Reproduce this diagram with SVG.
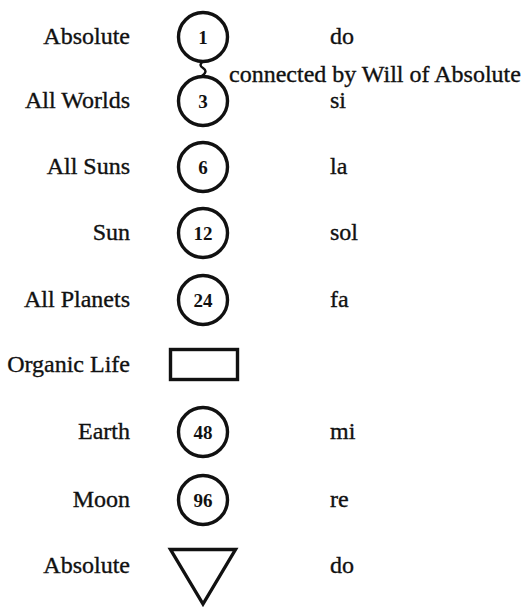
<svg xmlns="http://www.w3.org/2000/svg" width="525" height="608" viewBox="0 0 525 608">
<style>
  text { font-family: "Liberation Serif", "Times New Roman", serif; fill: #111; }
  .lbl { font-size: 24px; stroke: #111; stroke-width: 0.35; }
  .left { text-anchor: end; }
  .num { font-size: 19px; text-anchor: middle; font-weight: bold; }
  .shape { fill: #fff; stroke: #111; stroke-width: 3.4; }
  .conn { fill: none; stroke: #111; stroke-width: 2.4; }
</style>
<rect width="525" height="608" fill="#fff"/>
<g id="connectors">
  <path class="conn" d="M204,61 C199,64 200,66 203,68 C206,70 207,72 202,76"/>
  <text class="lbl" x="229" y="82">connected by Will of Absolute</text>
</g>
<g id="n1">
  <text class="lbl left" x="130" y="44">Absolute</text>
  <circle class="shape" cx="203" cy="37" r="24.5"/>
  <text class="num" x="203" y="44">1</text>
  <text class="lbl" x="330" y="44">do</text>
</g>
<g id="n3">
  <text class="lbl left" x="130" y="108">All Worlds</text>
  <circle class="shape" cx="203" cy="101" r="24.5"/>
  <text class="num" x="203" y="108">3</text>
  <text class="lbl" x="330" y="108">si</text>
</g>
<g id="n6">
  <text class="lbl left" x="130" y="174">All Suns</text>
  <circle class="shape" cx="203" cy="167" r="24.5"/>
  <text class="num" x="203" y="174">6</text>
  <text class="lbl" x="330" y="174">la</text>
</g>
<g id="n12">
  <text class="lbl left" x="130" y="240">Sun</text>
  <circle class="shape" cx="203" cy="233" r="24.5"/>
  <text class="num" x="203" y="240">12</text>
  <text class="lbl" x="330" y="240">sol</text>
</g>
<g id="n24">
  <text class="lbl left" x="130" y="307">All Planets</text>
  <circle class="shape" cx="203" cy="300" r="24.5"/>
  <text class="num" x="203" y="307">24</text>
  <text class="lbl" x="330" y="307">fa</text>
</g>
<g id="organic">
  <text class="lbl left" x="130" y="372">Organic Life</text>
  <rect class="shape" x="170.5" y="349.5" width="67" height="30"/>
</g>
<g id="n48">
  <text class="lbl left" x="130" y="439">Earth</text>
  <circle class="shape" cx="203" cy="432" r="24.5"/>
  <text class="num" x="203" y="439">48</text>
  <text class="lbl" x="330" y="439">mi</text>
</g>
<g id="n96">
  <text class="lbl left" x="130" y="507">Moon</text>
  <circle class="shape" cx="203" cy="500" r="24.5"/>
  <text class="num" x="203" y="507">96</text>
  <text class="lbl" x="330" y="507">re</text>
</g>
<g id="absolute2">
  <text class="lbl left" x="130" y="573">Absolute</text>
  <polygon class="shape" points="170.5,549.5 235.5,549.5 203,604"/>
  <text class="lbl" x="330" y="573">do</text>
</g>
</svg>
